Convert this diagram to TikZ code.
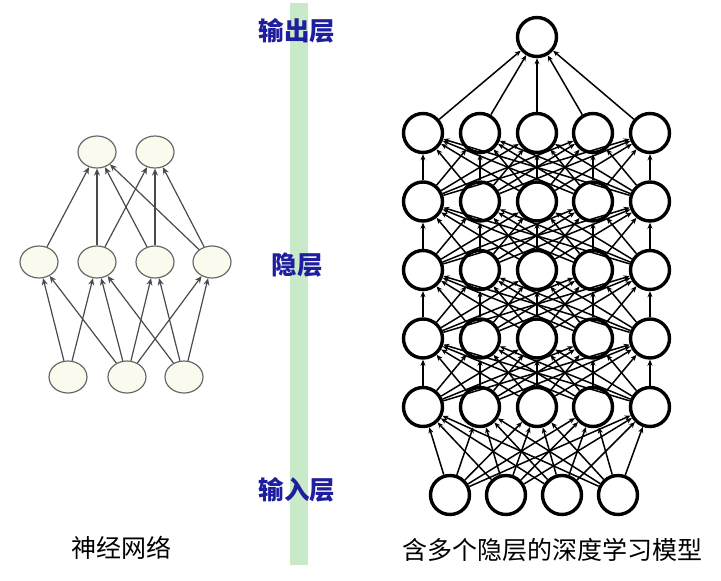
\documentclass[tikz,border=0pt]{standalone}
\usepackage{fontspec}
\newfontfamily\cjk{Noto Sans CJK SC}
\usetikzlibrary{arrows.meta,shapes.geometric}
\definecolor{barg}{HTML}{C8EAC8}
\definecolor{lblue}{HTML}{1E1E9E}
\definecolor{cream}{HTML}{FAFAEE}
\definecolor{lgray}{HTML}{6A6A6A}
\definecolor{agray}{HTML}{4A4A4A}
\tikzset{
  small/.style={ellipse,draw=lgray,fill=cream,line width=1.2pt,minimum width=38pt,minimum height=32pt,inner sep=0pt},
  sarrow/.style={draw=agray,line width=1.2pt,-{Stealth[length=7pt,width=6pt]}},
  big/.style={circle,draw=black,line width=3.4pt,fill=white,minimum size=39pt,inner sep=0pt},
  barrow/.style={draw=black,line width=1.5pt,-{Stealth[length=6pt,width=5pt]}},
  layerlbl/.style={text=lblue,font=\cjk\bfseries\fontsize{25.5}{27}\selectfont},
  caption/.style={font=\cjk\fontsize{25}{27}\selectfont}
}
\begin{document}
\begin{tikzpicture}[x=1pt,y=-1pt]
\useasboundingbox (0,0) rectangle (721,581);
\fill[white] (0,0) rectangle (721,581);
% green bar
\fill[barg] (290,3) rectangle (308,565);
\node[layerlbl] (lo) at (297,31) {输出层};
\node[layerlbl] (lh) at (297,265) {隐层};
\node[layerlbl] (li) at (297,490) {输入层};
% left network
\node[small] (o1) at (97,152) {};
\node[small] (o2) at (155,152) {};
\node[small] (h1) at (39,262) {};
\node[small] (h2) at (97,262) {};
\node[small] (h3) at (155,262) {};
\node[small] (h4) at (212,262) {};
\node[small] (i1) at (68,377) {};
\node[small] (i2) at (127,377) {};
\node[small] (i3) at (184,377) {};
\foreach \a/\b in {h1/o1,h2/o1,h3/o1,h4/o1,h2/o2,h3/o2,h4/o2,
  i1/h1,i1/h2,i2/h1,i2/h2,i2/h3,i2/h4,i3/h2,i3/h3,i3/h4}
  \draw[sarrow] (\a) -- (\b);
\node[caption] (c1) at (121,548) {神经网络};
% right network
\node[big] (out) at (537,37) {};
\foreach \r/\y in {1/133,2/201.5,3/270,4/338.5,5/407}{
  \foreach \c/\x in {1/423,2/480,3/537,4/593,5/650}{
    \node[big] (h\r-\c) at (\x,\y) {};
  }
}
\foreach \c/\x in {1/450,2/506,3/562,4/618}{
  \node[big] (in\c) at (\x,495) {};
}
\foreach \c in {1,...,5} \draw[barrow] (h1-\c) -- (out);
\foreach \r/\s in {2/1,3/2,4/3,5/4}{
  \foreach \c in {1,...,5}{
    \foreach \d in {1,...,5}{
      \draw[barrow] (h\r-\c) -- (h\s-\d);
    }
  }
}
\foreach \c in {1,...,4}{
  \foreach \d in {1,...,5}{
    \draw[barrow] (in\c) -- (h5-\d);
  }
}
\node[caption] (c2) at (552,550) {含多个隐层的深度学习模型};
\end{tikzpicture}
\end{document}
